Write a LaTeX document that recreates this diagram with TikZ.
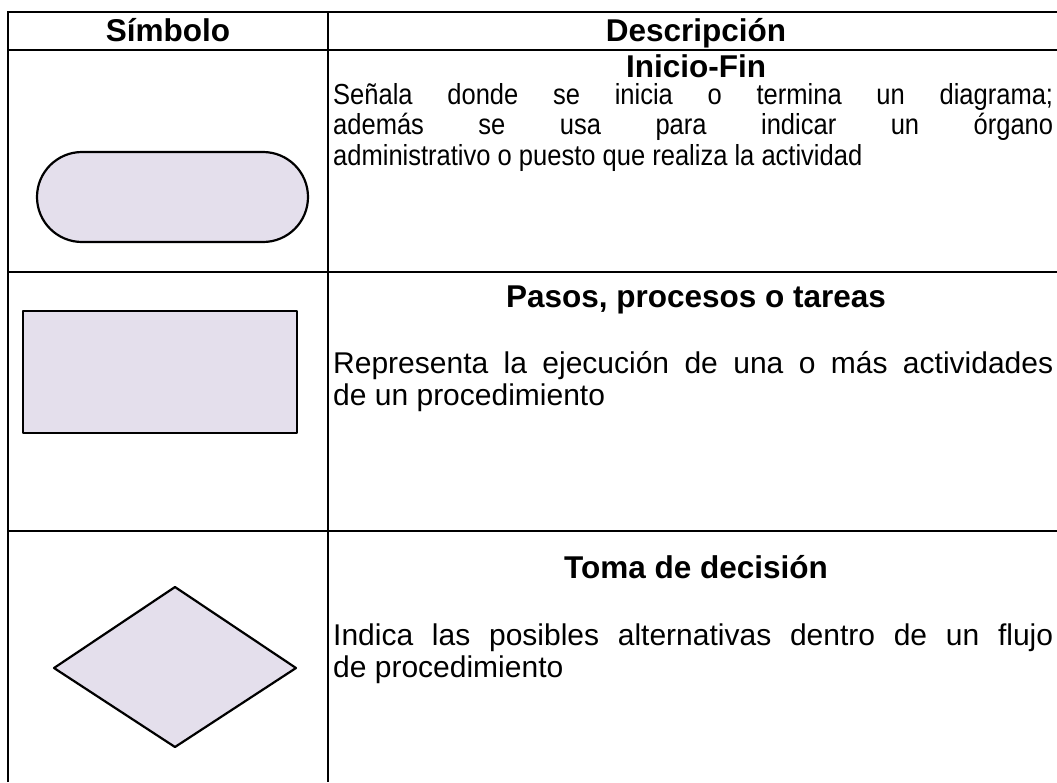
\documentclass[tikz,border=0pt]{standalone}
\usepackage{fontspec}
\setmainfont{Liberation Sans}
\newfontfamily\narrowface[FakeStretch=0.88]{Liberation Sans}
\usetikzlibrary{positioning}
\definecolor{symbolfill}{RGB}{228,223,236}
\newcommand\jline[1]{\hbox to 720pt{\spaceskip=0pt\xspaceskip=0pt #1}}
\tikzset{
    grid line/.style={line width=2pt},
    symbol shape/.style={draw=black,fill=symbolfill,line width=2.2pt,line join=round},
    head text/.style={font=\fontsize{31.5}{34}\selectfont\bfseries,inner sep=0pt,anchor=base},
    body text/.style={font=\fontsize{30}{32}\selectfont,inner sep=0pt,text width=720pt,align=justify},
    narrow text/.style={body text,font=\fontsize{29}{30.5}\selectfont\narrowface}
}

\begin{document}
\begin{tikzpicture}[x=1pt,y=-1pt]
        \useasboundingbox (0,0) rectangle (1057,782);
        % table lines
        \draw[grid line] (8,782) -- (8,12) -- (1064,12);
        \draw[grid line] (8,50) -- (1064,50);
        \draw[grid line] (8,272) -- (1064,272);
        \draw[grid line] (8,531) -- (1064,531);
        \draw[grid line] (328,12) -- (328,782);

        % header
        \node[head text] (hsym) at (168,41) {Símbolo};
        \node[head text] (hdesc) at (696,41) {Descripción};

        % inicio-fin
        \draw[symbol shape,rounded corners=45pt] (37,152) rectangle (308,242);
        \node[head text] (tinicio) at (696,77) {Inicio-Fin};
        \node[narrow text,anchor=base west] (dinicio) at (333,104)
            {\jline{Señala donde se inicia o termina un diagrama;}
             \jline{además se usa para indicar un órgano}
             \noindent administrativo o puesto que realiza la actividad};

        % proceso
        \draw[symbol shape] (23,311) rectangle (297,433);
        \node[head text] (tpaso) at (696,307) {Pasos, procesos o tareas};
        \node[body text,anchor=base west] (dpaso) at (333,373)
            {\jline{Representa la ejecución de una o más actividades}
             \noindent de un procedimiento};

        % decision
        \draw[symbol shape] (175,587) -- (296,668) -- (175,747) -- (54,668) -- cycle;
        \node[head text] (tdec) at (696,578) {Toma de decisión};
        \node[body text,anchor=base west] (ddec) at (333,645)
            {\jline{Indica las posibles alternativas dentro de un flujo}
             \noindent de procedimiento};
    \end{tikzpicture}
\end{document}
